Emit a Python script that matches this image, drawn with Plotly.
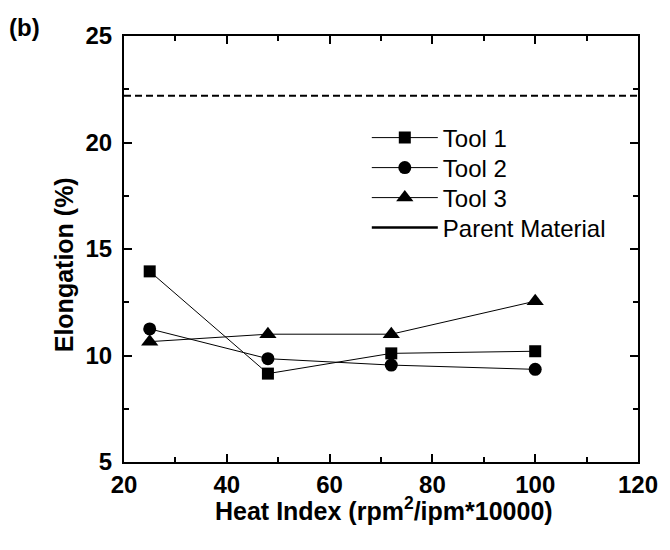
import plotly.graph_objects as go

heat_index = [25, 48, 72, 100]
tool1 = [13.95, 9.15, 10.1, 10.2]
tool2 = [11.25, 9.85, 9.55, 9.35]
tool3 = [10.65, 11.0, 11.0, 12.55]
parent_x = [20, 120]
parent_value = [22.2, 22.2]

x_ticks = [20, 40, 60, 80, 100, 120]
y_ticks = [5, 10, 15, 20, 25]

FONT = "Liberation Sans, Arial, sans-serif"
W, H = 670, 550
L, R, T, B = 124, 21, 36, 88
PW, PH = W - L - R, H - T - B

def px_to_paper(px, py):
    return (px - L) / PW, (H - B - py) / PH

fig = go.Figure()
line = dict(color="black", width=1)
fig.add_trace(go.Scatter(x=heat_index, y=tool1, name="Tool 1", mode="lines+markers",
                         line=line, marker=dict(symbol="square", size=12, color="black"),
                         legend="legend"))
fig.add_trace(go.Scatter(x=heat_index, y=tool2, name="Tool 2", mode="lines+markers",
                         line=line, marker=dict(symbol="circle", size=13, color="black"),
                         legend="legend2"))
fig.add_trace(go.Scatter(x=heat_index, y=tool3, name="Tool 3", mode="lines+markers",
                         line=line, marker=dict(symbol="triangle-up", size=15, color="black"),
                         legend="legend3"))
fig.add_trace(go.Scatter(x=parent_x, y=parent_value, name="Parent Material", mode="lines",
                         line=dict(color="black", width=2, dash="7px,4px"), showlegend=False))
# legend entry (solid line, as in the reference legend)
fig.add_trace(go.Scatter(x=[None], y=[None], name="Parent Material", mode="lines",
                         line=dict(color="black", width=2.5), legend="legend4"))

axis_common = dict(
    showline=True, linecolor="black", linewidth=2, mirror="ticks",
    ticks="inside", ticklen=8, tickwidth=1.5, tickcolor="black",
    showgrid=False, zeroline=False,
    tickfont=dict(family=FONT, size=24, color="black", weight="bold"),
    minor=dict(ticks="inside", ticklen=5, tickwidth=1.5, tickcolor="black", showgrid=False),
)

fig.update_xaxes(range=[20, 120], tickvals=x_ticks, minor_dtick=10,
                 ticklabelstandoff=0, **axis_common)
fig.update_yaxes(range=[5, 25], tickvals=y_ticks, minor_dtick=2.5,
                 ticklabelstandoff=5, **axis_common)

ax, ay = px_to_paper(390, 509)
yx, yy = px_to_paper(63, 265)
bx, by = px_to_paper(22, 27)

fig.add_annotation(x=ax, y=ay, xref="paper", yref="paper", showarrow=False,
                   xanchor="center", yanchor="middle",
                   text="Heat Index (rpm<sup>2</sup>/ipm*10000)",
                   font=dict(family=FONT, size=25, color="black", weight="bold"))
fig.add_annotation(x=yx, y=yy, xref="paper", yref="paper", showarrow=False, textangle=-90,
                   xanchor="center", yanchor="middle",
                   text="Elongation (%)",
                   font=dict(family=FONT, size=25, color="black", weight="bold"))
fig.add_annotation(x=bx, y=by, xref="paper", yref="paper", showarrow=False,
                   xanchor="center", yanchor="middle",
                   text="(b)", font=dict(family=FONT, size=24, color="black", weight="bold"))

legend_rows_px = [138, 168, 198, 228]
legend_layout = {}
for i, row in enumerate(legend_rows_px):
    lx, ly = px_to_paper(372, row)
    key = "legend" if i == 0 else f"legend{i + 1}"
    legend_layout[key] = dict(x=lx, y=ly, xanchor="left", yanchor="middle",
                              bgcolor="rgba(0,0,0,0)",
                              font=dict(family=FONT, size=24, color="black"),
                              itemwidth=66)

fig.update_layout(
    width=W, height=H,
    margin=dict(l=L, r=R, t=T, b=B, pad=0),
    paper_bgcolor="white", plot_bgcolor="white",
    font=dict(family=FONT, color="black"),
    showlegend=True,
    **legend_layout,
)

fig.write_html("out.html")
